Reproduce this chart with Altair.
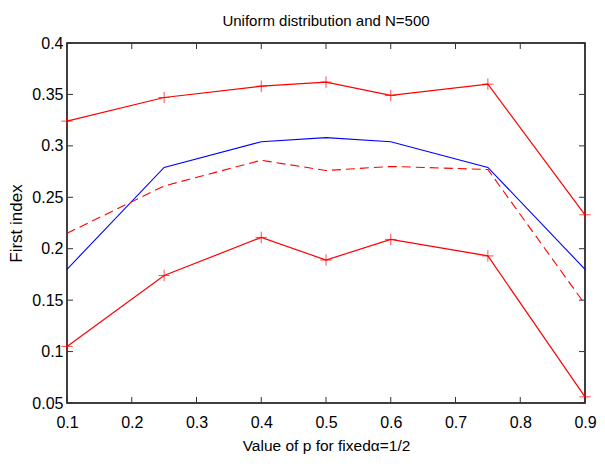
import altair as alt
import pandas as pd

p_values = [0.1, 0.25, 0.4, 0.5, 0.6, 0.75, 0.9]
upper_red = [0.324, 0.347, 0.358, 0.362, 0.349, 0.360, 0.233]
blue_line = [0.180, 0.279, 0.304, 0.308, 0.304, 0.279, 0.180]
dashed_red = [0.215, 0.261, 0.286, 0.276, 0.280, 0.277, 0.146]
lower_red = [0.105, 0.174, 0.211, 0.189, 0.209, 0.193, 0.056]

x_ticks = [0.1, 0.2, 0.3, 0.4, 0.5, 0.6, 0.7, 0.8, 0.9]
y_ticks = [0.05, 0.1, 0.15, 0.2, 0.25, 0.3, 0.35, 0.4]

W, H = 518, 360
FONT = "Liberation Sans"

xs = alt.Scale(domain=[0.1, 0.9], nice=False, zero=False)
ys = alt.Scale(domain=[0.05, 0.4], nice=False, zero=False)

def df(vals):
    return pd.DataFrame({"p": p_values, "v": vals})

base_x = alt.X("p:Q", scale=xs, axis=alt.Axis(
    values=x_ticks, format=".1~f", title="Value of p for fixed\u03b1=1/2",
    tickSize=0, domain=False, grid=False, labelPadding=11, titlePadding=8,
    labelFlush=False, labelOverlap=False,
    labelFont=FONT, labelFontSize=16, titleFont=FONT, titleFontSize=15.5,
    titleFontWeight="normal", labelColor="black", titleColor="black"))
base_y = alt.Y("v:Q", scale=ys, axis=alt.Axis(
    values=y_ticks, format=".2~f", title="First index",
    tickSize=0, domain=False, grid=False, labelPadding=4, titlePadding=6,
    labelFlush=False, labelOverlap=False,
    labelFont=FONT, labelFontSize=16, titleFont=FONT, titleFontSize=17,
    titleFontWeight="normal", labelColor="black", titleColor="black"))

nx = alt.X("p:Q", scale=xs)
ny = alt.Y("v:Q", scale=ys)

blue = alt.Chart(df(blue_line)).mark_line(color="#0000ff", strokeWidth=1.1).encode(x=base_x, y=base_y)
dash = alt.Chart(df(dashed_red)).mark_line(color="#ff0000", strokeWidth=1.1, strokeDash=[9, 5]).encode(x=nx, y=ny)
up = alt.Chart(df(upper_red)).mark_line(color="#ff0000", strokeWidth=1.2).encode(x=nx, y=ny)
lo = alt.Chart(df(lower_red)).mark_line(color="#ff0000", strokeWidth=1.2).encode(x=nx, y=ny)

plus = "M-1,0L1,0M0,-1L0,1"
up_pts = alt.Chart(df(upper_red)).mark_point(shape=plus, size=130, filled=False, color="#ff0000", strokeWidth=1).encode(x=nx, y=ny)
lo_pts = alt.Chart(df(lower_red)).mark_point(shape=plus, size=130, filled=False, color="#ff0000", strokeWidth=1).encode(x=nx, y=ny)

xt = pd.DataFrame({"p": x_ticks})
yt = pd.DataFrame({"v": y_ticks})
TL = 6
tick_col = "#333333"
xb = alt.Chart(xt).mark_rule(color=tick_col, strokeWidth=1).encode(x=nx, y=alt.value(H), y2=alt.value(H - TL))
xtp = alt.Chart(xt).mark_rule(color=tick_col, strokeWidth=1).encode(x=nx, y=alt.value(0), y2=alt.value(TL))
yl = alt.Chart(yt).mark_rule(color=tick_col, strokeWidth=1).encode(y=ny, x=alt.value(0), x2=alt.value(TL))
yr = alt.Chart(yt).mark_rule(color=tick_col, strokeWidth=1).encode(y=ny, x=alt.value(W - TL), x2=alt.value(W))

chart = alt.layer(blue, dash, up, lo, up_pts, lo_pts, xb, xtp, yl, yr).properties(
    width=W, height=H,
    title=alt.TitleParams("Uniform distribution and N=500", font=FONT, fontSize=15,
                          fontWeight="normal", color="black", offset=6, anchor="middle"),
    autosize=alt.AutoSizeParams(type="none"),
    padding={"left": 59, "top": 35, "right": 12, "bottom": 60},
).configure(background="white").configure_view(stroke="black", strokeWidth=1.5)

chart.save("out.html", embed_options={"renderer": "svg", "actions": False})
